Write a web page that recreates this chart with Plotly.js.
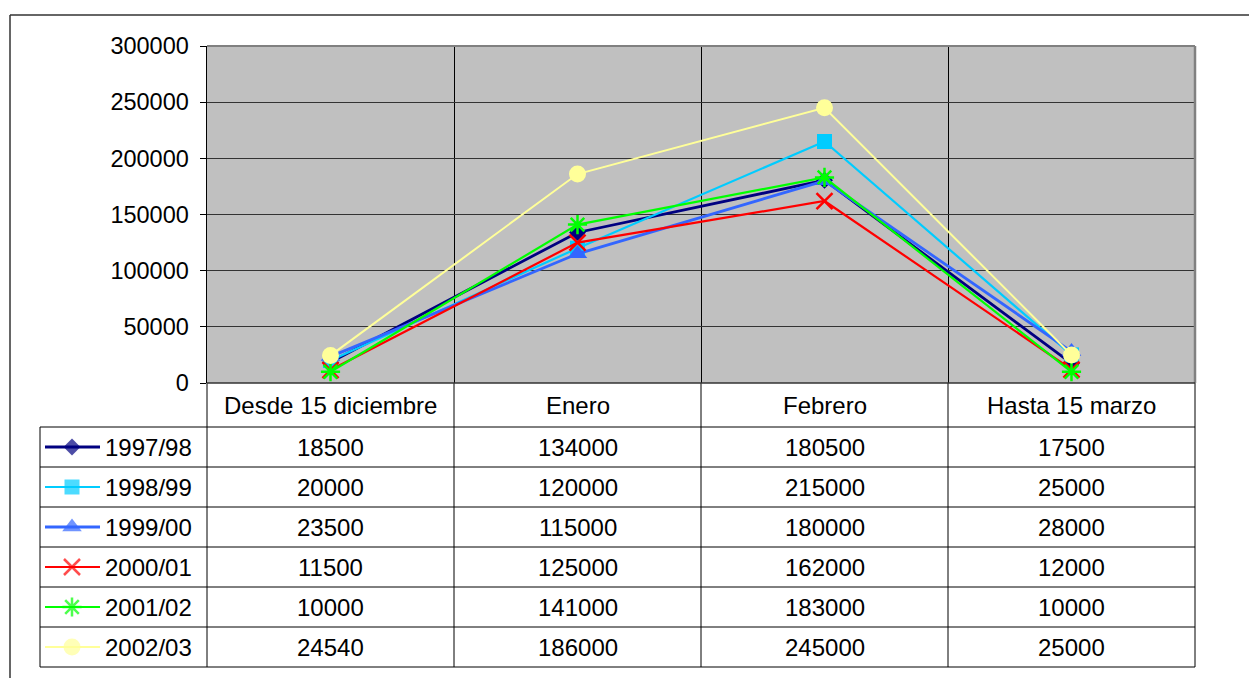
<!DOCTYPE html>
<html>
<head>
<meta charset="utf-8">
<script src="https://cdn.plot.ly/plotly-3.0.1.min.js"></script>
<style>html,body{margin:0;padding:0;background:#fff;}#chart{width:1249px;height:678px;}</style>
</head>
<body>
<div id="chart"></div>
<script>
const categories = ['Desde 15 diciembre', 'Enero', 'Febrero', 'Hasta 15 marzo'];
const seriesNames = ['1997/98', '1998/99', '1999/00', '2000/01', '2001/02', '2002/03'];
const s1997_98 = [18500, 134000, 180500, 17500];
const s1998_99 = [20000, 120000, 215000, 25000];
const s1999_00 = [23500, 115000, 180000, 28000];
const s2000_01 = [11500, 125000, 162000, 12000];
const s2001_02 = [10000, 141000, 183000, 10000];
const s2002_03 = [24540, 186000, 245000, 25000];
const yTickVals = [0, 50000, 100000, 150000, 200000, 250000, 300000];

const seriesValues = [s1997_98, s1998_99, s1999_00, s2000_01, s2001_02, s2002_03];
const styles = [
  {color: '#000080', symbol: 'diamond', size: 13, width: 2.8, mline: 0},
  {color: '#00CCFF', symbol: 'square', size: 15, width: 2.2, mline: 0},
  {color: '#3366FF', symbol: 'triangle-up', size: 17, width: 2.8, mline: 0},
  {color: '#FF0000', symbol: 'x-thin-open', size: 16, width: 2.2, mline: 2.5},
  {color: '#00FF00', symbol: 'asterisk-open', size: 16, width: 2.2, mline: 2.5},
  {color: '#FFFF99', symbol: 'circle', size: 17, width: 2, mline: 0}
];

const W = 1249, H = 678;
const PL = 207, PR = 1195, PT = 46, PB = 383;
const colX = [207, 454, 701, 948, 1195];
const rowY = [427, 467, 507, 547, 587, 627, 667];
const FONT = 'Liberation Sans, Arial, sans-serif';
const FS = 24;
const TFS = 23.5;
const px = x => x / W;
const py = y => 1 - y / H;

const traces = [];
seriesValues.forEach((vals, i) => {
  const st = styles[i];
  const mk = {symbol: st.symbol, size: st.size, color: st.color};
  if (st.mline) mk.line = {color: st.color, width: st.mline};
  else mk.line = {width: 0};
  traces.push({
    type: 'scatter', mode: 'lines+markers', name: seriesNames[i],
    x: categories, y: vals, xaxis: 'x', yaxis: 'y',
    line: {color: st.color, width: st.width}, marker: mk,
    showlegend: false, hoverinfo: 'skip', cliponaxis: false
  });
});
// legend keys inside the data table (pixel coordinates axis)
seriesNames.forEach((name, i) => {
  const st = styles[i];
  const yc = (rowY[i] + rowY[i + 1]) / 2;
  const mk = {symbol: st.symbol, size: [0, st.size, 0], color: st.color};
  if (st.mline) mk.line = {color: st.color, width: st.mline};
  else mk.line = {width: 0};
  traces.push({
    type: 'scatter', mode: 'lines+markers', x: [45, 72, 100], y: [yc, yc, yc],
    xaxis: 'x2', yaxis: 'y2', line: {color: st.color, width: st.width},
    marker: mk, showlegend: false, hoverinfo: 'skip', cliponaxis: false
  });
});

const shapes = [];
const L = (x0, y0, x1, y1, color, width) => shapes.push({type: 'line', xref: 'paper', yref: 'paper',
  x0: px(x0), y0: py(y0), x1: px(x1), y1: py(y1), line: {color: color, width: width}, layer: 'above'});
// plot area background
shapes.push({type: 'rect', xref: 'paper', yref: 'paper', x0: px(PL), x1: px(PR), y0: py(PB), y1: py(PT),
  fillcolor: '#C0C0C0', line: {width: 0}, layer: 'below'});
// outer chart border
L(10, 15, W + 5, 15, '#333333', 1.5);
L(10, 15, 10, H + 5, '#333333', 1.5);
// plot area border (gray)
L(PL, PT, PR, PT, '#808080', 2);
L(PR, PT, PR, PB, '#808080', 2.5);
// data table lines
colX.forEach(x => L(x, PB, x, rowY[rowY.length - 1], '#000000', 1));
L(40, rowY[0], 40, rowY[rowY.length - 1], '#000000', 1);
rowY.forEach(y => L(40, y, PR, y, '#000000', 1));
L(PL, PB, PR, PB, '#333333', 1.5);

const annotations = [];
categories.forEach((c, j) => {
  annotations.push({xref: 'paper', yref: 'paper', x: px((colX[j] + colX[j + 1]) / 2), y: py((PB + rowY[0]) / 2),
    text: c, showarrow: false, xanchor: 'center', yanchor: 'middle', font: {family: FONT, size: FS, color: '#000'}});
});
seriesValues.forEach((vals, i) => {
  const yc = (rowY[i] + rowY[i + 1]) / 2;
  annotations.push({xref: 'paper', yref: 'paper', x: px(103), y: py(yc), text: seriesNames[i], showarrow: false,
    xanchor: 'left', yanchor: 'middle', font: {family: FONT, size: FS, color: '#000'}});
  vals.forEach((v, j) => {
    annotations.push({xref: 'paper', yref: 'paper', x: px((colX[j] + colX[j + 1]) / 2), y: py(yc),
      text: String(v), showarrow: false, xanchor: 'center', yanchor: 'middle', font: {family: FONT, size: FS, color: '#000'}});
  });
});

const layout = {
  width: W, height: H, margin: {l: 0, r: 0, t: 0, b: 0},
  paper_bgcolor: '#FFFFFF', plot_bgcolor: 'rgba(0,0,0,0)',
  font: {family: FONT, size: FS, color: '#000'},
  showlegend: false,
  xaxis: {domain: [px(PL), px(PR)], type: 'category', categoryarray: categories, range: [-0.5, 3.5],
    tickson: 'boundaries', showticklabels: false, ticks: '', showgrid: true, gridcolor: '#000000', gridwidth: 1,
    zeroline: false, showline: false, fixedrange: true, anchor: 'y'},
  yaxis: {domain: [py(PB), py(PT)], range: [0, 300000], tickvals: yTickVals, ticktext: yTickVals.map(String),
    ticks: 'outside', ticklen: 6, tickwidth: 1, tickcolor: '#000', ticklabelstandoff: 6,
    showgrid: true, gridcolor: '#333333', gridwidth: 1, zeroline: false, showline: true, linecolor: '#000', linewidth: 1.5,
    tickfont: {family: FONT, size: TFS, color: '#000'}, fixedrange: true, anchor: 'x'},
  xaxis2: {domain: [0, 1], range: [0, W], visible: false, anchor: 'y2', fixedrange: true},
  yaxis2: {domain: [0, 1], range: [H, 0], visible: false, anchor: 'x2', fixedrange: true},
  shapes: shapes, annotations: annotations
};

Plotly.newPlot('chart', traces, layout, {displayModeBar: false, staticPlot: true});
</script>
</body>
</html>
